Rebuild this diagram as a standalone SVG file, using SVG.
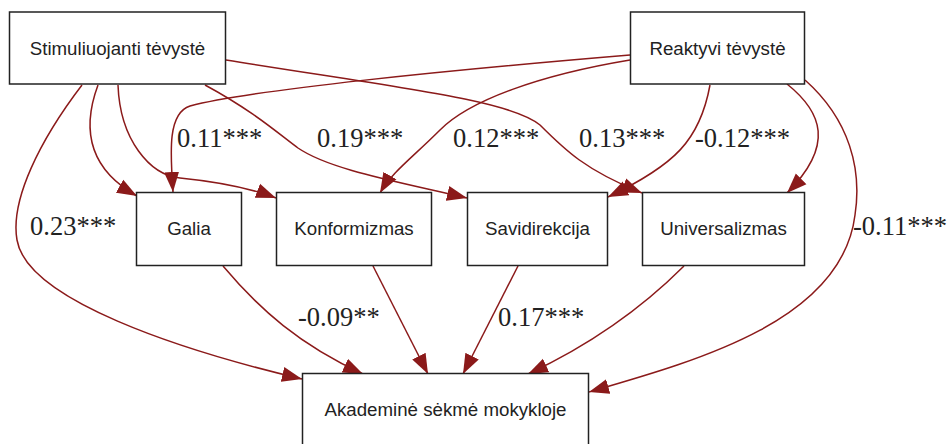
<svg xmlns="http://www.w3.org/2000/svg" width="950" height="444" viewBox="0 0 950 444">
<defs>
<style>
.box{fill:#fff;stroke:#222;stroke-width:1.5}
.nt{font-family:"Liberation Sans",Arial,sans-serif;font-size:18.7px;fill:#222;text-anchor:middle}
.lb{font-family:"Liberation Serif","Times New Roman",serif;font-size:26.5px;fill:#222}
.e{fill:none;stroke:#8B1A1A;stroke-width:1.5;marker-end:url(#ah)}
</style>
<marker id="ah" markerUnits="userSpaceOnUse" markerWidth="22" markerHeight="16" refX="20" refY="8" orient="auto" viewBox="0 0 22 16">
<path d="M0,0.5 L20,8 L0,15.5 z" fill="#8B1A1A"/>
</marker>
</defs>
<rect width="950" height="444" fill="#fff"/>
<g id="connectors">
<path class="e" d="M82,85 C40,140 10,200 17,240 C27,300 180,350 302,379"/>
<path class="e" d="M98,85 C85,120 82,165 137,196"/>
<path class="e" d="M118,85 C120,140 150,175 180,178 C220,182 250,188 276,198"/>
<path class="e" d="M205,85 C255,112 280,135 298,148 C330,170 400,182 467,198"/>
<path class="e" d="M226,60 C400,88 510,100 540,125 C565,150 585,170 642,193"/>
<path class="e" d="M630,55 C450,70 250,90 190,106 C168,113 170,150 173,192"/>
<path class="e" d="M630,60 C540,75 470,100 440,130 C412,158 392,172 380,193"/>
<path class="e" d="M710,85 C700,140 675,165 608,197"/>
<path class="e" d="M787,84 C822,112 835,145 787,193"/>
<path class="e" d="M805,80 C850,120 862,170 855,215 C842,320 700,360 589,392"/>
<path class="e" d="M223,266 C260,310 300,345 363,374"/>
<path class="e" d="M373,266 L428,374"/>
<path class="e" d="M518,266 L463,374"/>
<path class="e" d="M684,266 C640,310 590,345 528,374"/>
</g>
<g id="n_stim"><rect class="box" x="9.5" y="12" width="216" height="72"/><text class="nt" x="117.5" y="54.5">Stimuliuojanti tėvystė</text></g>
<g id="n_reakt"><rect class="box" x="630.5" y="12" width="174" height="72"/><text class="nt" x="717.5" y="54.5">Reaktyvi tėvystė</text></g>
<g id="n_galia"><rect class="box" x="136.5" y="192.5" width="105" height="73"/><text class="nt" x="189" y="235">Galia</text></g>
<g id="n_konf"><rect class="box" x="276.5" y="192.5" width="155" height="73"/><text class="nt" x="354" y="235">Konformizmas</text></g>
<g id="n_savi"><rect class="box" x="467.5" y="192.5" width="140" height="73"/><text class="nt" x="537.5" y="235">Savidirekcija</text></g>
<g id="n_univ"><rect class="box" x="642.5" y="192.5" width="162" height="73"/><text class="nt" x="723.5" y="235">Universalizmas</text></g>
<g id="n_akad"><rect class="box" x="302.5" y="373.5" width="286" height="74"/><text class="nt" x="445.5" y="416">Akademinė sėkmė mokykloje</text></g>
<g id="labels">
<text class="lb" x="177" y="147">0.11***</text>
<text class="lb" x="317" y="147">0.19***</text>
<text class="lb" x="453" y="147">0.12***</text>
<text class="lb" x="579" y="147">0.13***</text>
<text class="lb" x="695" y="147">-0.12***</text>
<text class="lb" x="30" y="235">0.23***</text>
<text class="lb" x="853" y="235">-0.11***</text>
<text class="lb" x="298" y="326">-0.09**</text>
<text class="lb" x="498" y="326">0.17***</text>
</g>
</svg>
